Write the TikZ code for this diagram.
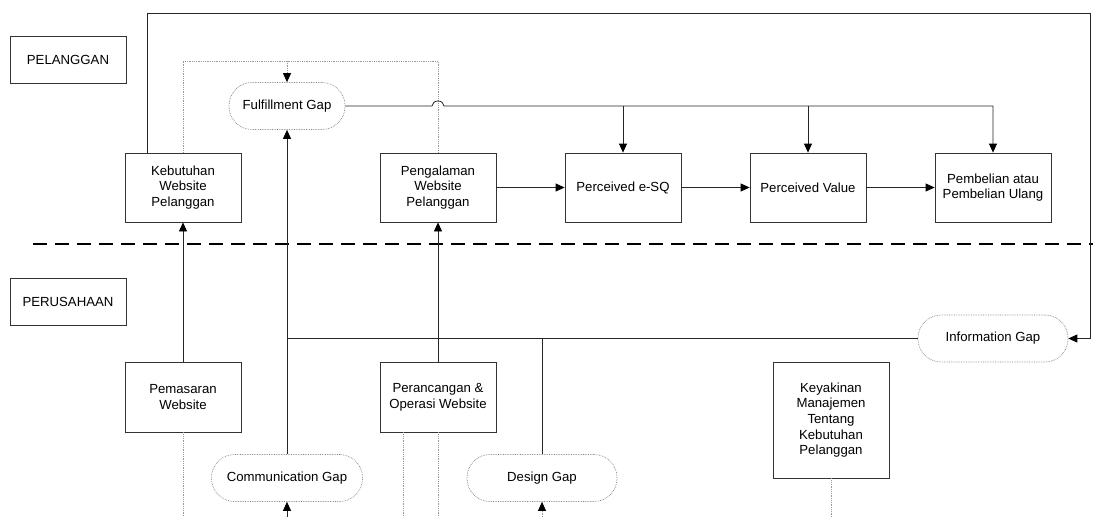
\documentclass[tikz,border=0pt]{standalone}
\usepackage{fontspec}
\setmainfont{Liberation Sans}
\usetikzlibrary{arrows.meta}

\tikzset{
  box/.style={draw=black!80, line width=0.8pt, minimum width=116pt, inner sep=0pt, align=center, font=\fontsize{13.2}{15.6}\selectfont},
  gapnode/.style={draw=gray, densely dotted, line width=0.7pt, rounded corners=23pt, minimum height=47pt, inner sep=0pt, font=\fontsize{13.2}{15.6}\selectfont},
  link/.style={black!85, line width=0.8pt},
  arr/.style={link, -{Triangle[length=9pt,width=8pt,color=black]}},
  faint/.style={gray!80, densely dotted, line width=0.8pt},
}

\begin{document}
\begin{tikzpicture}[x=1pt,y=-1pt]
\useasboundingbox (0,0) rectangle (1093,517);

\node[box, minimum height=47pt] (pelanggan) at (68,59.5) {PELANGGAN};
\node[box, minimum height=47pt] (perusahaan) at (68,301.5) {PERUSAHAAN};

\node[box, minimum height=69pt] (kebutuhan) at (183,187.5) {Kebutuhan\\Website\\Pelanggan};
\node[box, minimum height=69pt] (pengalaman) at (438,187.5) {Pengalaman\\Website\\Pelanggan};
\node[box, minimum height=69pt] (esq) at (623,187.5) {Perceived e-SQ};
\node[box, minimum height=69pt] (pvalue) at (808,187.5) {Perceived Value};
\node[box, minimum height=69pt] (pembelian) at (993,187.5) {Pembelian atau\\Pembelian Ulang};

\node[box, minimum height=70pt] (pemasaran) at (183,397) {Pemasaran\\Website};
\node[box, minimum height=70pt] (perancangan) at (438,397) {Perancangan \&\\Operasi Website};
\node[box, minimum height=116pt] (keyakinan) at (831,420) {Keyakinan\\Manajemen\\Tentang\\Kebutuhan\\Pelanggan};

\node[gapnode, minimum width=116pt] (fgap) at (287,106) {Fulfillment Gap};
\node[gapnode, minimum width=151pt] (cgap) at (287,478) {Communication Gap};
\node[gapnode, minimum width=150pt] (dgap) at (542,478) {Design Gap};
\node[gapnode, minimum width=150pt] (igap) at (993,338.5) {Information Gap};

\coordinate (ftop) at (287,61);
\coordinate (bot) at (0,517);
\path (pengalaman.north |- fgap.east) coordinate (hop);

\draw[black, line width=2pt, dash pattern=on 14pt off 8pt] (33,244) -- (1093,244);

\draw[arr] ([xshift=23pt]kebutuhan.north west) |- (1090,13) |- (igap.east);

\draw[faint] (kebutuhan.north) |- (ftop) -| (pengalaman.north);
\draw[faint, -{Triangle[length=9pt,width=8pt,color=black]}] (ftop) -- (fgap.north);

\draw[arr] (fgap.east) -- ([xshift=-6pt]hop) arc[start angle=180, end angle=0, x radius=6pt, y radius=5pt] -| (pembelian.north);
\draw[arr] (esq.north |- fgap.east) -- (esq.north);
\draw[arr] (pvalue.north |- fgap.east) -- (pvalue.north);

\draw[arr] (pengalaman) -- (esq);
\draw[arr] (esq) -- (pvalue);
\draw[arr] (pvalue) -- (pembelian);

\draw[arr] (pemasaran) -- (kebutuhan);
\draw[arr] (perancangan) -- (pengalaman);
\draw[arr] (cgap) -- (fgap);
\draw[link] (igap.west) -- (igap.west -| cgap.north);
\draw[link] (dgap.north) -- (dgap.north |- igap.west);

\draw[faint] (pemasaran.south) -- (pemasaran.south |- bot);
\draw[faint] ([xshift=-35pt]perancangan.south) -- ([xshift=-35pt]perancangan.south |- bot);
\draw[faint] (perancangan.south) -- (perancangan.south |- bot);
\draw[faint] (keyakinan.south) -- (keyakinan.south |- bot);
\draw[arr] (cgap.south |- bot) -- (cgap.south);
\draw[faint, -{Triangle[length=9pt,width=8pt,color=black]}] (dgap.south |- bot) -- (dgap.south);

\end{tikzpicture}
\end{document}
